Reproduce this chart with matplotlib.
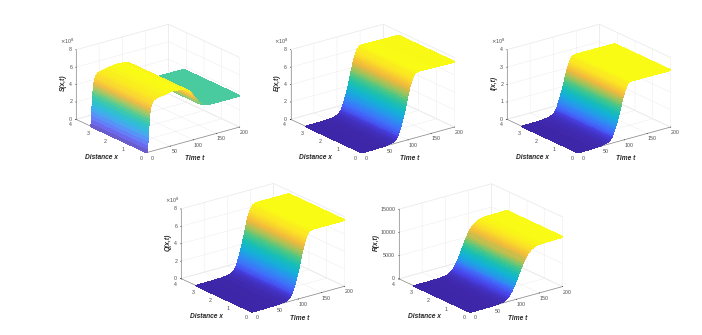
import numpy as np
import matplotlib
matplotlib.use('Agg')
import matplotlib.pyplot as plt
from matplotlib.colors import LinearSegmentedColormap
from mpl_toolkits.mplot3d import proj3d

plt.rcParams['font.family'] = ['Liberation Sans', 'DejaVu Sans']

x_dist = [0.0, 1.0, 2.0, 3.14]

t_S = [0, 0.5, 1, 1.5, 2, 2.5, 3, 3.5, 4, 4.5, 5, 5.5, 6, 6.5, 7, 7.5, 8, 9, 10, 11, 12, 14, 16, 20, 30, 40, 50, 60, 70, 80,
       85, 90, 92, 94, 96, 98, 100, 102, 104, 106, 108, 110, 112, 114, 116, 118, 120, 125, 130, 140, 200]
v_S = [0.0, 0.45, 0.9, 1.35, 1.8, 2.25, 2.7, 3.15, 3.55, 3.9, 4.2, 4.45, 4.65, 4.82, 4.98, 5.1, 5.2, 5.4, 5.55, 5.65, 5.73, 5.85, 5.92, 6.0, 6.1, 6.2, 6.28, 6.3, 6.25, 6.1,
       5.95, 5.75, 5.65, 5.5, 5.35, 5.2, 5.0, 4.85, 4.7, 4.55, 4.4, 4.25, 4.1, 4.0, 3.9, 3.82, 3.75, 3.68, 3.63, 3.6, 3.6]

t_E = [0, 30, 50, 60, 65, 68] + list(range(70, 121)) + [122, 125, 130, 150, 200]
v_E = [0.0, 0.005, 0.05, 0.12, 0.2, 0.27,
       0.32, 0.36, 0.41, 0.47, 0.53, 0.6, 0.68, 0.77, 0.88, 1.0,
       1.14, 1.29, 1.45, 1.62, 1.8, 1.98, 2.16, 2.35, 2.54, 2.73,
       2.92, 3.12, 3.33, 3.55, 3.78, 4.02, 4.27, 4.52, 4.77, 5.02,
       5.26, 5.49, 5.71, 5.92, 6.12, 6.3, 6.47, 6.63, 6.77, 6.9,
       7.02, 7.13, 7.22, 7.3, 7.37, 7.42, 7.46, 7.49, 7.52, 7.54, 7.56,
       7.58, 7.58, 7.57, 7.54, 7.5]

t_I = [0, 30, 45, 55, 60] + list(range(65, 116)) + [120, 140, 200]
v_I = [0.0, 0.01, 0.03, 0.07, 0.11,
       0.14, 0.16, 0.18, 0.21, 0.23, 0.26, 0.3, 0.34, 0.38, 0.44,
       0.5, 0.56, 0.63, 0.71, 0.79, 0.87, 0.94, 1.03, 1.11, 1.19,
       1.28, 1.36, 1.46, 1.55, 1.65, 1.76, 1.87, 1.98, 2.08, 2.19,
       2.3, 2.4, 2.5, 2.59, 2.67, 2.75, 2.83, 2.9, 2.96, 3.02,
       3.07, 3.12, 3.16, 3.19, 3.22, 3.24, 3.25, 3.26, 3.27, 3.27, 3.28,
       3.28, 3.28, 3.27]

t_Q = [0, 30, 55, 68, 73, 76] + list(range(78, 129)) + [130, 133, 140, 160, 200]
v_Q = [0.0, 0.005, 0.05, 0.12, 0.2, 0.27,
       0.32, 0.36, 0.41, 0.47, 0.53, 0.6, 0.68, 0.77, 0.88, 1.0,
       1.14, 1.29, 1.45, 1.62, 1.8, 1.98, 2.16, 2.35, 2.54, 2.73,
       2.92, 3.12, 3.33, 3.55, 3.78, 4.02, 4.27, 4.52, 4.77, 5.02,
       5.26, 5.49, 5.71, 5.92, 6.12, 6.3, 6.47, 6.63, 6.77, 6.9,
       7.02, 7.13, 7.22, 7.3, 7.37, 7.42, 7.46, 7.5, 7.53, 7.56, 7.58,
       7.6, 7.6, 7.6, 7.6, 7.6]

t_R = [0, 30, 50, 60, 66] + list(range(70, 138, 2)) + [140, 145, 155, 200]
v_R = [0, 10, 60, 130, 190,
       250, 320, 410, 520, 650, 810, 1000, 1220, 1480, 1770,
       2090, 2440, 2820, 3220, 3650, 4110, 4590, 5080, 5570, 6050,
       6520, 6970, 7400, 7800, 8170, 8510, 8820, 9090, 9330, 9540,
       9720, 9880, 10020, 10140,
       10350, 10500, 10600, 10700]

names = ['S(x,t)', 'E(x,t)', 'I(x,t)', 'Q(x,t)', 'R(x,t)']
times = [t_S, t_E, t_I, t_Q, t_R]
values = [v_S, v_E, v_I, v_Q, v_R]
z_ticks = [[0, 2, 4, 6, 8], [0, 2, 4, 6, 8], [0, 1, 2, 3, 4], [0, 2, 4, 6, 8], [0, 5000, 10000, 15000]]
exponent = ['8', '8', '8', '8', None]
t_ticks = [0, 50, 100, 150, 200]
x_ticks = [0, 1, 2, 3, 4]

# pixel location of the origin corner of each box
origins = [(147, 152.5), (361.7, 152.5), (578, 152.5), (252, 311.7), (470, 312)]
SX = 92.5   # pixel width of the time axis

anchors = [(0.00, '#3e26a8'), (0.10, '#4743e8'), (0.20, '#3f6ffb'), (0.30, '#2a92ef'), (0.40, '#14b0d8'),
           (0.50, '#17beb5'), (0.60, '#43c78a'), (0.70, '#a0c35a'), (0.80, '#f1b93c'), (0.90, '#fbdc28'), (1.00, '#f9fb15')]
parula = LinearSegmentedColormap.from_list('parula', anchors, N=512)
# the first panel looks paler in its low values in the reference
_lv = np.linspace(0, 1, 256)
_pale = parula(_lv)
_pale[:, :3] = _pale[:, :3] + (1 - _pale[:, :3]) * (0.22 * (1 - _lv))[:, None]
parula_pale = LinearSegmentedColormap.from_list('parula_pale', _pale)
cmaps = [parula_pale, parula, parula, parula, parula]

W, H = 702, 335
fig = plt.figure(figsize=(W / 100, H / 100), dpi=100, facecolor='white')
TICK = '#4d4d4d'
GRID = '#ececec'
AXL = '#8c8c8c'


def corner_px(ax, p):
    a, b, _ = proj3d.proj_transform(p[0], p[1], p[2], ax.get_proj())
    return ax.transData.transform((a, b))


for i in range(5):
    ztop = z_ticks[i][-1]
    ax = fig.add_axes([0, 0, 0.4, 0.8], projection='3d', computed_zorder=True)
    ax.set_proj_type('ortho')
    ax.view_init(elev=21, azim=-127.5)
    ax.set_box_aspect((1, 1, 0.64), zoom=1.0)
    ax.patch.set_alpha(0)

    t = np.array(times[i], float)
    x = np.array(x_dist, float)
    T, X = np.meshgrid(t, x)
    Z = np.tile(np.array(values[i], float), (len(x), 1))
    surf = ax.plot_surface(T, X, Z, cmap=cmaps[i], vmin=0, vmax=max(values[i]), linewidth=0,
                           antialiased=False, rstride=1, cstride=1, shade=False)
    surf.set_edgecolor('face')
    surf.set_linewidth(0.6)

    ax.set_xlim(0, 200, view_margin=0)
    ax.set_ylim(0, 4, view_margin=0)
    ax.set_zlim(0, ztop, view_margin=0)
    ax.set_xticks(t_ticks)
    ax.set_yticks(x_ticks)
    ax.set_zticks(z_ticks[i])
    ax.set_xticklabels([])
    ax.set_yticklabels([])
    ax.set_zticklabels([])
    for a in (ax.xaxis, ax.yaxis, ax.zaxis):
        a.set_pane_color((1, 1, 1, 1))
        a.pane.set_edgecolor(GRID)
        a.pane.set_linewidth(0.4)
        a.line.set_color(AXL)
        a.line.set_linewidth(0.5)
        a._axinfo['grid'].update(color=GRID, linewidth=0.35)
        a._axinfo['tick'].update(inward_factor=0.05, outward_factor=0.0, color=AXL, linewidth={True: 0.4, False: 0.4})

    fig.canvas.draw()
    o = corner_px(ax, (0, 0, 0))
    e = corner_px(ax, (200, 0, 0))
    ax.set_box_aspect((1, 1, 0.64), zoom=SX / (e[0] - o[0]))
    fig.canvas.draw()
    o = corner_px(ax, (0, 0, 0))
    ox, oy = origins[i]
    pos = ax.get_position()
    ax.set_position([pos.x0 + (ox - o[0]) / W, pos.y0 + ((H - oy) - o[1]) / H, pos.width, pos.height])
    fig.canvas.draw()

    tk = dict(fontsize=3.8, color=TICK)
    for v in t_ticks:
        p = corner_px(ax, (v, 0, 0))
        fig.text((p[0] + 4.8) / W, (p[1] - 5.5) / H, str(v), ha='center', va='center', **tk)
    for v in x_ticks:
        p = corner_px(ax, (0, v, 0))
        fig.text((p[0] - 6) / W, (p[1] - 5.5) / H, str(v), ha='center', va='center', **tk)
    for v in z_ticks[i]:
        p = corner_px(ax, (0, 4, v))
        fig.text((p[0] - 3.8) / W, p[1] / H, str(v), ha='right', va='center', **tk)

    lab = dict(fontsize=4.8, fontweight='bold', fontstyle='italic', color='#262626', ha='center', va='center')
    fig.text((ox - 46) / W, 1 - (oy + 4.5) / H, 'Distance x', **lab)
    fig.text((ox + 48) / W, 1 - (oy + 6.5) / H, 'Time t', **lab)
    zoff = -94 if exponent[i] is None else -84
    fig.text((ox + zoff) / W, 1 - (oy - 69.5) / H, names[i], rotation=90, **lab)
    if exponent[i]:
        fig.text((ox - 80) / W, 1 - (oy - 111) / H, r'$\times$10$^{%s}$' % exponent[i], fontsize=3.8, color=TICK,
                 ha='center', va='center')

fig.savefig('out.png', dpi=100)
